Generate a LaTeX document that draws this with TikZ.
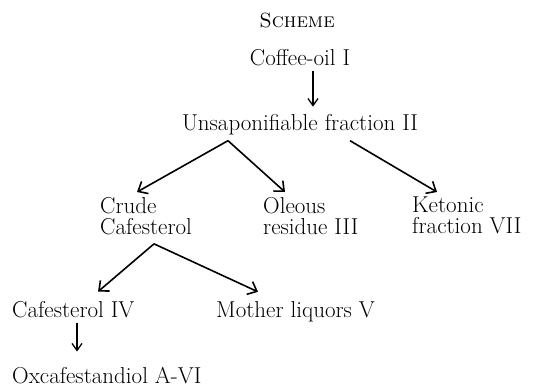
\documentclass[tikz,border=0pt]{standalone}
\usepackage{fontspec}
\usepackage{tikz}
\usetikzlibrary{arrows.meta}

\tikzset{
  label/.style={inner sep=0, font=\fontsize{23}{21}\selectfont\addfontfeatures{FakeBold=0.5}},
  stack/.style={label, align=left, anchor=north west},
  bigarrow/.style={line width=1.6pt, -{Straight Barb[length=8pt,width=14pt,line width=1.6pt]}},
  smallarrow/.style={line width=1.1pt, -{Straight Barb[length=7pt,width=10pt,line width=1.3pt]}}
}

\begin{document}
\begin{tikzpicture}[x=1pt, y=-1pt]

\useasboundingbox (0,0) rectangle (556,386);

% headings
\node[label, anchor=base, font=\fontsize{20.5}{20}\selectfont\scshape\addfontfeatures{FakeBold=0.5}] (scheme) at (297,27) {Scheme};
\node[label, anchor=base] (coffee) at (300,65) {Coffee-oil I};
\node[label, anchor=base] (unsap) at (300,130) {Unsaponifiable fraction II};

% second row
\node[stack] (crude) at (100,197) {Crude\\Cafesterol};
\node[stack] (oleous) at (263,197) {Oleous\\residue III};
\node[stack] (ketonic) at (412,197) {Ketonic\\fraction VII};

% third row
\node[label, anchor=base west] (cafIV) at (12,317) {Cafesterol IV};
\node[label, anchor=base west] (mother) at (216,317) {Mother liquors V};
\node[label, anchor=base west] (oxcaf) at (12,383) {Oxcafestandiol A-VI};

% arrows
\draw[smallarrow] ([xshift=13pt,yshift=-5pt]coffee.south) -- ([xshift=13pt,yshift=7pt]unsap.north);
\draw[bigarrow] ([xshift=-72pt,yshift=-6pt]unsap.south) -- ([xshift=37pt,yshift=5pt]crude.north west);
\draw[bigarrow] ([xshift=-72pt,yshift=-6pt]unsap.south) -- ([xshift=22pt,yshift=5pt]oleous.north west);
\draw[bigarrow] ([xshift=50pt,yshift=-6pt]unsap.south) -- ([xshift=25pt,yshift=5pt]ketonic.north west);
\draw[bigarrow] ([xshift=54pt,yshift=-9pt]crude.south west) -- ([xshift=86pt,yshift=9pt]cafIV.north west);
\draw[bigarrow] ([xshift=54pt,yshift=-9pt]crude.south west) -- ([xshift=42pt,yshift=9pt]mother.north west);
\draw[smallarrow] ([xshift=65pt,yshift=-5pt]cafIV.south west) -- ([xshift=65pt,yshift=15pt]oxcaf.north west);

\end{tikzpicture}
\end{document}
